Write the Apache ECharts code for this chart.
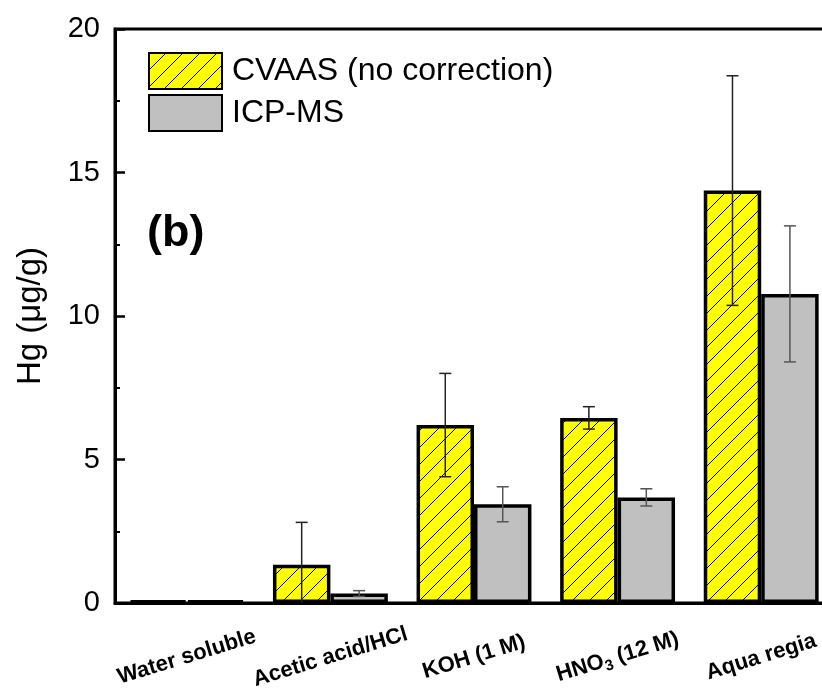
<!DOCTYPE html>
<html>
<head>
<meta charset="utf-8">
<script src="https://cdn.jsdelivr.net/npm/echarts@6/dist/echarts.min.js"></script>
<style>
html,body{margin:0;padding:0;background:#fff;}
#chart{width:822px;height:698px;}
</style>
</head>
<body>
<div id="chart"></div>
<script>
// ---- data ----
const categories = ['Water soluble', 'Acetic acid/HCl', 'KOH (1 M)', 'HNO3 (12 M)', 'Aqua regia'];
const seriesNames = ['CVAAS (no correction)', 'ICP-MS'];
const cvaasValues = [0.08, 1.33, 6.2, 6.45, 14.37];
const cvaasErrors = [0, 1.48, 1.8, 0.39, 4.0];
const icpmsValues = [0.08, 0.33, 3.44, 3.68, 10.77];
const icpmsErrors = [0, 0.1, 0.61, 0.3, 2.37];
const yTicks = [0, 5, 10, 15, 20];

// ---- hatch pattern ----
function makeHatch() {
  const s = 17;
  const c = document.createElement('canvas');
  c.width = s; c.height = s;
  const g = c.getContext('2d');
  g.fillStyle = '#ffff00';
  g.fillRect(0, 0, s, s);
  g.strokeStyle = '#000';
  g.lineWidth = 1;
  g.beginPath();
  g.moveTo(0, s); g.lineTo(s, 0);
  g.moveTo(-2, 2); g.lineTo(2, -2);
  g.moveTo(s - 2, s + 2); g.lineTo(s + 2, s - 2);
  g.stroke();
  return c;
}
const hatch = { image: makeHatch(), repeat: 'repeat' };

const FONT = '"Liberation Sans", Arial, sans-serif';

function errData(vals, errs, idx) {
  return vals.map((v, i) => [i, v, errs[i], idx]);
}

function renderErr(params, api) {
  const ci = api.value(0), v = api.value(1), e = api.value(2), si = api.value(3);
  if (!e) return null;
  const band = api.size([1, 0])[0];
  const cx = api.coord([ci, 0])[0] + (si === 0 ? -0.2 : 0.2) * band;
  const yt = api.coord([ci, v + e])[1];
  const yb = api.coord([ci, v - e])[1];
  const col = si === 0 ? '#222' : '#555';
  const hw = 6;
  const st = { stroke: col, lineWidth: 1.5 };
  return {
    type: 'group',
    children: [
      { type: 'line', shape: { x1: cx, y1: yt, x2: cx, y2: yb }, style: st },
      { type: 'line', shape: { x1: cx - hw, y1: yt, x2: cx + hw, y2: yt }, style: st },
      { type: 'line', shape: { x1: cx - hw, y1: yb, x2: cx + hw, y2: yb }, style: st }
    ]
  };
}

const chart = echarts.init(document.getElementById('chart'));
const option = {
  animation: false,
  backgroundColor: '#fff',
  grid: {
    left: 115, top: 29, width: 718, height: 574,
    outerBoundsMode: 'none', containLabel: false,
    show: true, borderColor: '#000', borderWidth: 3, backgroundColor: 'transparent'
  },
  legend: {
    orient: 'vertical',
    left: 148, top: 52, padding: 0,
    itemWidth: 73, itemHeight: 36, itemGap: 4,
    icon: 'rect',
    data: seriesNames,
    textStyle: { fontFamily: FONT, fontSize: 32, color: '#000', padding: [0, 0, 0, 5] }
  },
  graphic: [{
    type: 'text', left: 147, top: 211,
    style: { text: '(b)', font: 'bold 45px ' + FONT, fill: '#000' }
  }],
  xAxis: {
    type: 'category',
    data: categories,
    axisLine: { lineStyle: { color: '#000', width: 3 } },
    axisTick: { show: false },
    axisLabel: {
      interval: 0,
      rotate: 17,
      align: 'center',
      verticalAlign: 'middle',
      margin: 54,
      color: '#000',
      fontFamily: FONT,
      fontSize: 22,
      fontWeight: 'bold',
      formatter: function (v) {
        if (v === 'HNO3 (12 M)') return '{b|HNO}{s|3}{b| (12 M)}';
        return '{b|' + v + '}';
      },
      rich: {
        b: { fontFamily: FONT, fontSize: 22, fontWeight: 'bold', color: '#000' },
        s: { fontFamily: FONT, fontSize: 15, fontWeight: 'bold', color: '#000', padding: [12, 0, 0, 0] }
      }
    }
  },
  yAxis: {
    type: 'value',
    min: yTicks[0], max: yTicks[yTicks.length - 1], interval: 5,
    name: 'Hg (\u03bcg/g)',
    nameLocation: 'middle',
    nameGap: 68,
    nameTextStyle: { fontFamily: FONT, fontSize: 33, color: '#000' },
    axisLine: { show: true, lineStyle: { color: '#000', width: 3 } },
    axisTick: { show: true, inside: true, length: 10, lineStyle: { color: '#000', width: 2.5 } },
    minorTick: { show: true, splitNumber: 2, length: 5, lineStyle: { color: '#000', width: 2 } },
    splitLine: { show: false },
    axisLabel: { color: '#000', fontFamily: FONT, fontSize: 29, margin: 15 }
  },
  series: [
    {
      name: seriesNames[0], type: 'bar', data: cvaasValues,
      barWidth: '40%', barGap: '0%',
      itemStyle: { color: hatch, borderColor: '#000', borderWidth: 3.5 }
    },
    {
      name: seriesNames[1], type: 'bar', data: icpmsValues,
      barWidth: '40%', barGap: '0%',
      itemStyle: { color: '#c0c0c0', borderColor: '#000', borderWidth: 3.5 }
    },
    {
      type: 'custom', name: 'err0', data: errData(cvaasValues, cvaasErrors, 0),
      renderItem: renderErr, clip: true, z: 5, encode: { x: 0, y: 1 }, silent: true
    },
    {
      type: 'custom', name: 'err1', data: errData(icpmsValues, icpmsErrors, 1),
      renderItem: renderErr, clip: true, z: 5, encode: { x: 0, y: 1 }, silent: true
    }
  ]
};
chart.setOption(option);
</script>
</body>
</html>
